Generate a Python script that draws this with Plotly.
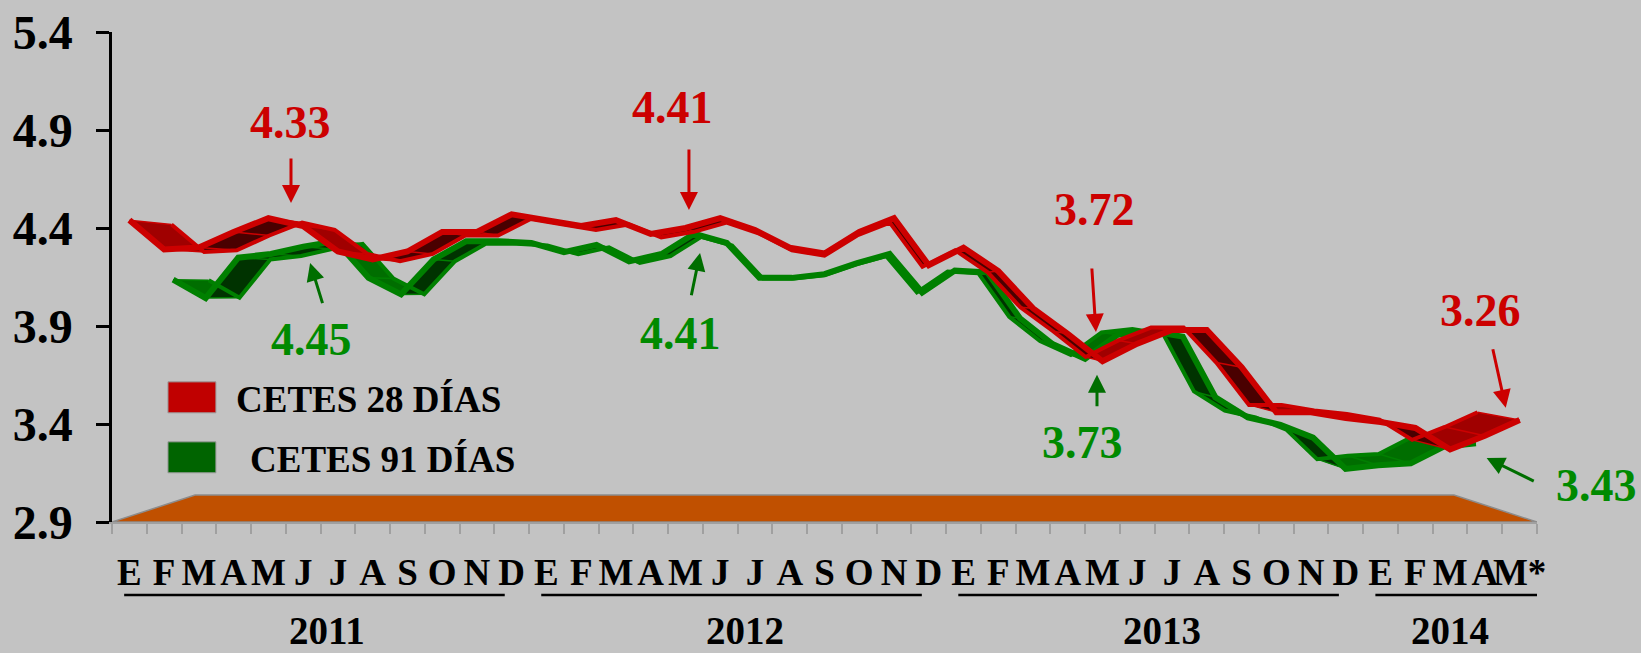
import plotly.graph_objects as go

# ---------------- data ----------------
months = ["E", "F", "M", "A", "M", "J", "J", "A", "S", "O", "N", "D"] * 3 + ["E", "F", "M", "A", "M*"]
years = ["2011", "2012", "2013", "2014"]
months_per_year = [12, 12, 12, 5]

cetes28 = [4.44, 4.29, 4.30, 4.38, 4.45, 4.41, 4.28, 4.24, 4.28, 4.38, 4.38, 4.47,
           4.44, 4.41, 4.44, 4.37, 4.40, 4.45, 4.39, 4.30, 4.27, 4.38, 4.45, 4.21,
           4.30, 4.18, 3.99, 3.86, 3.72, 3.81, 3.88, 3.88, 3.69, 3.46, 3.46, 3.43,
           3.41, 3.38, 3.27, 3.34, 3.42]
cetes91 = [4.14, 4.04, 4.26, 4.28, 4.32, 4.35, 4.15, 4.06, 4.25, 4.35, 4.35, 4.34,
           4.29, 4.33, 4.24, 4.28, 4.39, 4.34, 4.15, 4.15, 4.17, 4.23, 4.28, 4.07,
           4.19, 4.18, 3.93, 3.79, 3.71, 3.84, 3.86, 3.83, 3.50, 3.39, 3.35, 3.28,
           3.11, 3.13, 3.14, 3.23, 3.25]

y_ticks = [2.9, 3.4, 3.9, 4.4, 4.9, 5.4]
series_names = ["CETES 28 DÍAS", "CETES 91 DÍAS"]
callouts28 = ["4.33", "4.41", "3.72", "3.26"]
callouts91 = ["4.45", "4.41", "3.73", "3.43"]

# ---------------- style ----------------
BG = "#c3c3c3"
FONT = "Liberation Serif"
RED_EDGE, RED_LIT, RED_DARK = "#cc0000", "#a00000", "#4a0000"
GRN_EDGE, GRN_LIT, GRN_DARK = "#008000", "#006e00", "#003300"
RED_TXT, GRN_TXT, GRN_ARROW = "#cc0000", "#008a00", "#006e00"
FLOOR = "#c05000"

# 3-D look: perspective toward a vanishing point in data space
XC, YC, K = 20.0, 4.08, 0.1165
YMIN, YMAX = 2.9, 5.4
n = len(months)


def proj(x, v, d):
    s = 1 - K * d
    return XC + s * (x - XC), YC + s * (v - YC)


fig = go.Figure()

# floor
fx, fy = [], []
for (x, d) in [(-0.5, 0), (n - 0.5, 0), (n - 0.5, 1), (-0.5, 1), (-0.5, 0)]:
    px, py = proj(x, YMIN, d)
    fx.append(px)
    fy.append(py)
fig.add_trace(go.Scatter(x=fx, y=fy, mode="lines", fill="toself", fillcolor=FLOOR,
                         line=dict(color="#8c8c8c", width=1.5), hoverinfo="skip",
                         showlegend=False))


def ribbon(values, d0, d1, edge, lit, dark):
    P = [proj(i, v, d0) for i, v in enumerate(values)]
    Q = [proj(i, v, d1) for i, v in enumerate(values)]
    groups = {lit: ([], []), dark: ([], [])}
    for i in range(len(values) - 1):
        quad = [P[i], P[i + 1], Q[i + 1], Q[i]]
        area = sum(quad[k][0] * quad[(k + 1) % 4][1] - quad[(k + 1) % 4][0] * quad[k][1]
                   for k in range(4))
        gx, gy = groups[lit if area > 0 else dark]
        gx += [q[0] for q in quad] + [quad[0][0], None]
        gy += [q[1] for q in quad] + [quad[0][1], None]
    for col, (gx, gy) in groups.items():
        fig.add_trace(go.Scatter(x=gx, y=gy, mode="lines", fill="toself", fillcolor=col,
                                 line=dict(width=0, color=col), hoverinfo="skip",
                                 showlegend=False))
    sx, sy = [], []
    for p, q in zip(P, Q):
        sx += [p[0], q[0], None]
        sy += [p[1], q[1], None]
    fig.add_trace(go.Scatter(x=sx, y=sy, mode="lines", line=dict(color=edge, width=1.5),
                             hoverinfo="skip", showlegend=False))
    fig.add_trace(go.Scatter(x=[q[0] for q in Q], y=[q[1] for q in Q], mode="lines",
                             line=dict(color=edge, width=4), hoverinfo="skip",
                             showlegend=False))
    fig.add_trace(go.Scatter(x=[p[0] for p in P], y=[p[1] for p in P], mode="lines",
                             line=dict(color=edge, width=6), hoverinfo="skip",
                             showlegend=False))


ribbon(cetes91, 0.54, 0.98, GRN_EDGE, GRN_LIT, GRN_DARK)
ribbon(cetes28, 0.0, 0.52, RED_EDGE, RED_LIT, RED_DARK)

annotations = []
shapes = []

# callout labels with arrows: text position (paper), arrow tail, arrow tip (data)
call_pos28 = [((0.1256, 0.815), (4.65, 4.762), (4.65, 4.527)),
              ((0.3930, 0.846), (16.10, 4.808), (16.10, 4.492)),
              ((0.6898, 0.638), (27.69, 4.201), (27.81, 3.870)),
              ((0.9600, 0.431), (39.22, 3.789), (39.60, 3.483))]
call_pos91 = [((0.1400, 0.372), (5.57, 4.009), (5.20, 4.222)),
              ((0.3986, 0.384), (16.16, 4.049), (16.42, 4.273)),
              ((0.6814, 0.163), (27.84, 3.483), (27.84, 3.651)),
              ((1.0421, 0.074), (40.45, 3.105), (39.05, 3.227))]
for texts, poss, tcol, acol in [(callouts28, call_pos28, RED_TXT, RED_EDGE),
                                (callouts91, call_pos91, GRN_TXT, GRN_ARROW)]:
    for t, (tp, tail, tip) in zip(texts, poss):
        annotations.append(dict(x=tp[0], y=tp[1], xref="paper", yref="paper", text=t,
                                showarrow=False, xanchor="center", yanchor="middle",
                                font=dict(family=FONT, size=46, color=tcol, weight="bold")))
        annotations.append(dict(x=tip[0], y=tip[1], xref="x", yref="y", ax=tail[0], ay=tail[1],
                                axref="x", ayref="y", text="", showarrow=True, arrowhead=2,
                                arrowsize=1.2, arrowwidth=3, arrowcolor=acol))

# legend keys
for name, col, yc, xt in [(series_names[0], "#c00000", 3.536, 3.02),
                          (series_names[1], "#006400", 3.230, 3.40)]:
    shapes.append(dict(type="rect", xref="x", yref="y", x0=1.11, x1=2.49,
                       y0=yc - 0.079, y1=yc + 0.079, fillcolor=col,
                       line=dict(color="#9a9a9a", width=1), layer="above"))
    annotations.append(dict(x=xt, y=yc - 0.01, xref="x", yref="y", text=name, showarrow=False,
                            xanchor="left", yanchor="middle",
                            font=dict(family=FONT, size=37, color="black", weight="bold")))

# year labels and underlines
start = 0
for yr, cnt in zip(years, months_per_year):
    first, last = start, start + cnt - 1
    x0 = first - 0.5 + 0.35
    x1 = last + 0.5 - (0.7 if cnt == 12 else 0.0)
    shapes.append(dict(type="line", xref="x", yref="paper", x0=x0, x1=x1,
                       y0=-0.149, y1=-0.149, line=dict(color="black", width=2.5)))
    annotations.append(dict(x=(first + last) / 2 + (0.2 if cnt == 12 else 0.0), y=-0.222,
                            xref="x", yref="paper", text=yr, showarrow=False,
                            xanchor="center", yanchor="middle",
                            font=dict(family=FONT, size=39, color="black", weight="bold")))
    start += cnt

fig.update_layout(
    width=1641, height=653,
    margin=dict(l=112, r=104, t=32, b=131, pad=0, autoexpand=False),
    paper_bgcolor=BG, plot_bgcolor=BG,
    showlegend=False,
    annotations=annotations, shapes=shapes,
    xaxis=dict(range=[-0.5, n - 0.5], tickmode="array", tickvals=list(range(n)),
               ticktext=months, ticks="", showline=True, linecolor="#a0a0a0", linewidth=2,
               showgrid=False, zeroline=False, ticklabelstandoff=17, tickangle=0,
               automargin=False,
               tickfont=dict(family=FONT, size=37, color="black", weight="bold"),
               minor=dict(tickmode="array", tickvals=[i - 0.5 for i in range(n + 1)],
                          ticks="outside", ticklen=10, tickwidth=1.5, tickcolor="#a0a0a0",
                          showgrid=False)),
    yaxis=dict(range=[YMIN, YMAX], tickmode="array", tickvals=y_ticks,
               ticktext=[f"{v:.1f}" for v in y_ticks], ticks="outside", ticklen=13,
               tickwidth=2.5, tickcolor="black", showline=True, linecolor="black",
               linewidth=2.5, showgrid=False, zeroline=False, ticklabelstandoff=14,
               automargin=False,
               tickfont=dict(family=FONT, size=48, color="black", weight="bold")),
)

fig.write_html("out.html", config={"displayModeBar": False},
               post_script="document.body.style.margin='0';document.body.style.overflow='hidden';")
